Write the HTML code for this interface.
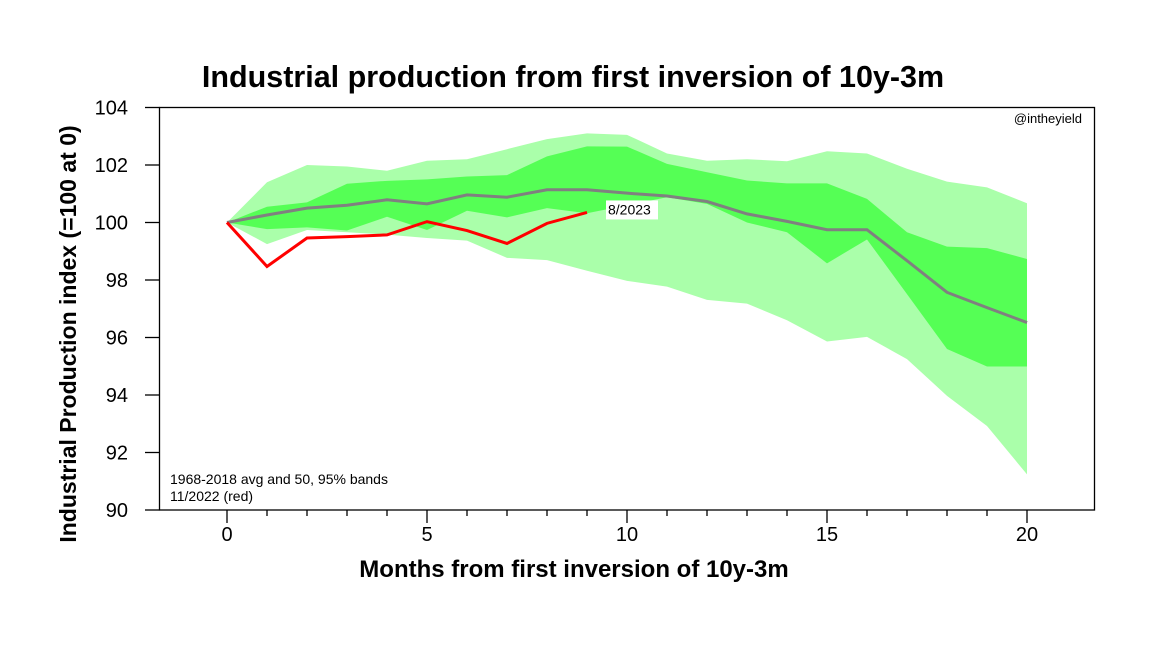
<!DOCTYPE html>
<html><head><meta charset="utf-8"><style>
body{margin:0;background:#fff;}
svg text{font-family:"Liberation Sans",Arial,sans-serif;}
</style></head><body>
<svg id="chart" width="1150" height="646" xmlns="http://www.w3.org/2000/svg">
<rect width="1150" height="646" fill="#fff"/>
<text x="573" y="87" text-anchor="middle" font-size="30.5" font-weight="bold">Industrial production from first inversion of 10y-3m</text>
<g id="bands"></g>
<g id="lines"></g>
<g id="axes"></g>
<rect x="159.5" y="107.5" width="935" height="402.5" fill="none" stroke="#000" stroke-width="1.3"/>
<text x="1082" y="123" text-anchor="end" font-size="13">@intheyield</text>
<text x="170" y="484" font-size="14">1968-2018 avg and 50, 95% bands</text>
<text x="170" y="501" font-size="14">11/2022 (red)</text>
<text x="574" y="577" text-anchor="middle" font-size="24" font-weight="bold">Months from first inversion of 10y-3m</text>
<text transform="translate(76,334) rotate(-90)" text-anchor="middle" font-size="23" font-weight="bold">Industrial Production index (=100 at 0)</text>
</svg>
<script>
const months=[0,1,2,3,4,5,6,7,8,9,10,11,12,13,14,15,16,17,18,19,20];
const outerUpper=[100,101.4,102.0,101.95,101.8,102.15,102.2,102.55,102.9,103.1,103.05,102.4,102.15,102.2,102.13,102.48,102.4,101.87,101.42,101.22,100.67];
const innerUpper=[100,100.55,100.7,101.35,101.45,101.5,101.6,101.65,102.3,102.65,102.64,102.04,101.75,101.46,101.36,101.36,100.82,99.66,99.16,99.11,98.73];
const innerLower=[100,99.77,99.83,99.72,100.2,99.74,100.41,100.18,100.5,100.32,100.6,100.88,100.65,100.0,99.66,98.58,99.41,97.51,95.6,94.99,94.99];
const outerLower=[100,99.25,99.74,99.66,99.58,99.46,99.37,98.77,98.69,98.32,97.97,97.77,97.31,97.18,96.6,95.86,96.02,95.25,93.97,92.92,91.24];
const avg=[100,100.26,100.5,100.6,100.79,100.65,100.96,100.88,101.14,101.14,101.02,100.92,100.73,100.3,100.04,99.75,99.75,98.67,97.57,97.04,96.52];
const recent=[100,98.47,99.46,99.51,99.57,100.03,99.72,99.27,99.97,100.35];
const recentLabel="8/2023";
const xTicks=[0,5,10,15,20];
const yTicks=[90,92,94,96,98,100,102,104];
const NS="http://www.w3.org/2000/svg";
const X=m=>227+m*40;
const Y=v=>107.5+(104-v)*(402.5/14);
function mk(tag,attrs,parent){const e=document.createElementNS(NS,tag);for(const k in attrs)e.setAttribute(k,attrs[k]);parent.appendChild(e);return e;}
function band(up,lo){let p=months.map((m,i)=>X(m)+","+Y(up[i]));for(let i=months.length-1;i>=0;i--)p.push(X(months[i])+","+Y(lo[i]));return p.join(" ");}
const bands=document.getElementById('bands');
const b95=mk('polygon',{points:band(outerUpper,outerLower),fill:'#aaffaa'},bands);


const b50=mk('polygon',{points:band(innerUpper,innerLower),fill:'#55ff55'},bands);


const lines=document.getElementById('lines');
const la=mk('polyline',{points:avg.map((v,i)=>X(months[i])+","+Y(v)).join(" "),fill:'none',stroke:'#808080','stroke-width':3},lines);


const lr=mk('polyline',{points:recent.map((v,i)=>X(months[i])+","+Y(v)).join(" "),fill:'none',stroke:'#ff0000','stroke-width':3},lines);


const last=recent.length-1;
const lb=mk('rect',{x:X(last)+19,y:Y(recent[last])-12,width:52,height:19,fill:'#fff'},lines);


const lt=mk('text',{x:X(last)+21,y:Y(recent[last])+2,'font-size':14},lines);
lt.textContent=recentLabel;


const axes=document.getElementById('axes');
yTicks.forEach(t=>{
 const l=mk('line',{x1:145,x2:159.5,y1:Y(t),y2:Y(t),stroke:'#000','stroke-width':1.3},axes);
 
 
 const tx=mk('text',{x:128,y:Y(t)+7,'text-anchor':'end','font-size':20},axes);
 tx.textContent=t;
 
 
});
months.forEach(m=>{
 const len=xTicks.includes(m)?13:6;
 const l=mk('line',{x1:X(m),x2:X(m),y1:510,y2:510+len,stroke:'#000','stroke-width':1.3},axes);
 
 
});
xTicks.forEach(t=>{
 const tx=mk('text',{x:X(t),y:541,'text-anchor':'middle','font-size':20},axes);
 tx.textContent=t;
 
 
});
</script>
</body></html>
